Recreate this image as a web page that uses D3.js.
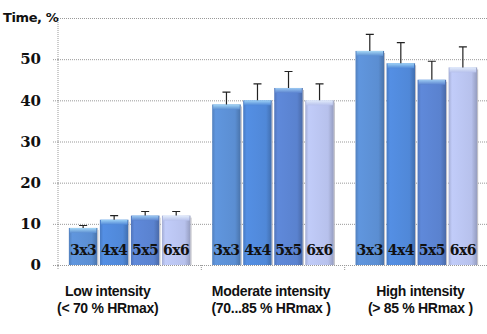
<!DOCTYPE html>
<html>
<head>
<meta charset="utf-8">
<script src="https://cdn.jsdelivr.net/npm/d3@7"></script>
<style>
  body { margin: 0; background: #fff; }
  svg text { fill: #111; }
</style>
</head>
<body>
<svg id="chart" width="487" height="334"></svg>
<script>
// data
const groups = ["Low intensity", "Moderate intensity", "High intensity"];
const groupSub = ["(< 70 % HRmax)", "(70...85 % HRmax )", "(> 85 % HRmax )"];
const formats = ["3x3", "4x4", "5x5", "6x6"];
const lowValues = [9, 11, 12, 12];
const moderateValues = [39, 40, 43, 40];
const highValues = [52, 49, 45, 48];
const lowErr = [0.6, 1, 1, 1];
const moderateErr = [3, 4, 4, 4];
const highErr = [4, 5, 4.5, 5];
const yTicks = [0, 10, 20, 30, 40, 50];

const colors = ["#5b8ed2", "#5088d8", "#5a82cf", "#b7c1ec"];
const tops = ["#a6d8f6", "#9ed2f6", "#9ccaf2", "#e2ecfb"];

const values = [lowValues, moderateValues, highValues];
const errs = [lowErr, moderateErr, highErr];

var svg = d3.select("#chart");
var mLeft = 58, mRight = 488, mTop = 18, mBottom = 265;

var x0 = d3.scaleBand().domain(groups).range([mLeft, mRight]);
var x1 = d3.scaleBand().domain(formats).range([0, x0.bandwidth()])
  .paddingInner(0.08).paddingOuter(0.35);
var y = d3.scaleLinear().domain([0, 60]).range([mBottom, mTop]);

// gradients for the bars (rounded, shaded look)
var defs = svg.append("defs");
formats.forEach(function(f, i) {
  var c = d3.color(colors[i]);
  var g = defs.append("linearGradient").attr("id", "body" + i)
    .attr("x1", 0).attr("x2", 1).attr("y1", 0).attr("y2", 0);
  g.append("stop").attr("offset", "0%").attr("stop-color", c.darker(0.3));
  g.append("stop").attr("offset", "12%").attr("stop-color", c.brighter(0.15));
  g.append("stop").attr("offset", "80%").attr("stop-color", c);
  g.append("stop").attr("offset", "100%").attr("stop-color", c.darker(0.6));
  var t = defs.append("linearGradient").attr("id", "top" + i)
    .attr("x1", 0).attr("x2", 0).attr("y1", 0).attr("y2", 1);
  t.append("stop").attr("offset", "0%").attr("stop-color", tops[i]);
  t.append("stop").attr("offset", "100%").attr("stop-color", c);
});

// gridlines
svg.append("g")
  .attr("transform", "translate(" + mLeft + ",0)")
  .call(d3.axisLeft(y).tickValues([0, 10, 20, 30, 40, 50, 60])
    .tickSize(-(487 - mLeft)).tickFormat(""))
  .call(g => g.select(".domain").remove())
  .call(g => g.selectAll("line").attr("stroke", "#999").attr("stroke-dasharray", "1,1"));

// y axis
var yAxis = svg.append("g")
  .attr("transform", "translate(" + mLeft + ",0)")
  .call(d3.axisLeft(y).tickValues(yTicks).tickSize(5).tickPadding(12));
yAxis.select(".domain").attr("d", "M0," + mTop + "V" + (mBottom + 4))
  .attr("stroke", "#999").attr("stroke-dasharray", "1,1");
yAxis.selectAll("line").attr("stroke", "#999").attr("stroke-dasharray", "1,1");
yAxis.selectAll("text")
  .attr("font-family", "DejaVu Serif")
  .attr("font-weight", "bold")
  .attr("font-size", "15px")
  .attr("fill", "#111");

svg.append("text")
  .attr("x", 3).attr("y", 22)
  .attr("font-family", "DejaVu Sans")
  .attr("font-weight", "bold")
  .attr("font-size", "13px")
  .attr("letter-spacing", "-0.4px")
  .text("Time, %");

// group separators on the baseline
svg.append("g").selectAll("line")
  .data(groups.slice(1))
  .join("line")
  .attr("x1", d => x0(d)).attr("x2", d => x0(d))
  .attr("y1", mBottom).attr("y2", mBottom + 6)
  .attr("stroke", "#999").attr("stroke-dasharray", "1,1");

// bars
var groupG = svg.append("g").selectAll("g")
  .data(groups)
  .join("g")
  .attr("transform", d => "translate(" + x0(d) + ",0)");

groupG.each(function(gname, gi) {
  var rows = formats.map((f, i) => ({ f: f, i: i, v: values[gi][i], e: errs[gi][i] }));
  var g = d3.select(this);
  var bw = x1.bandwidth();

  g.selectAll("rect.bar").data(rows).join("rect")
    .attr("class", "bar")
    .attr("x", d => x1(d.f)).attr("width", bw)
    .attr("y", d => y(d.v)).attr("height", d => y(0) - y(d.v))
    .attr("fill", d => "url(#body" + d.i + ")");

  g.selectAll("rect.cap").data(rows).join("rect")
    .attr("class", "cap")
    .attr("x", d => x1(d.f) + 1).attr("width", bw - 2)
    .attr("y", d => y(d.v)).attr("height", 5)
    .attr("fill", d => "url(#top" + d.i + ")");

  g.selectAll("line.shadow").data(rows).join("line")
    .attr("class", "shadow")
    .attr("x1", d => x1(d.f) + bw + 0.5).attr("x2", d => x1(d.f) + bw + 0.5)
    .attr("y1", d => y(d.v) + 2).attr("y2", y(0))
    .attr("stroke", "#b8b8c0");

  // error bars
  g.selectAll("path.err").data(rows).join("path")
    .attr("class", "err")
    .attr("d", d => {
      var cx = x1(d.f) + bw / 2;
      return "M" + cx + "," + y(d.v) + "V" + y(d.v + d.e) +
        "M" + (cx - 4) + "," + y(d.v + d.e) + "H" + (cx + 4);
    })
    .attr("stroke", "#222").attr("stroke-width", 1.2).attr("fill", "none");

  g.selectAll("text.fmt").data(rows).join("text")
    .attr("class", "fmt")
    .attr("x", d => x1(d.f) + bw / 2).attr("y", mBottom - 10)
    .attr("text-anchor", "middle")
    .attr("font-family", "DejaVu Serif")
    .attr("font-weight", "bold")
    .attr("font-size", "14px")
    .attr("letter-spacing", "-0.5px")
    .text(d => d.f);
});

// category labels
var labelShift = [-22, -2, 4];
var cat = svg.append("g").selectAll("text")
  .data(groups)
  .join("text")
  .attr("text-anchor", "middle")
  .attr("font-family", "Liberation Sans Narrow, Arial Narrow, sans-serif")
  .attr("font-weight", "bold")
  .attr("font-size", "14px")
  .attr("letter-spacing", "-0.3px")
  .attr("transform", (d, i) => "translate(" + (x0(d) + x0.bandwidth() / 2 + labelShift[i]) + ",0)");
cat.append("tspan").attr("x", 0).attr("y", 296).text(d => d);
cat.append("tspan").attr("x", 0).attr("y", 313).text((d, i) => groupSub[i]);
</script>
</body>
</html>
